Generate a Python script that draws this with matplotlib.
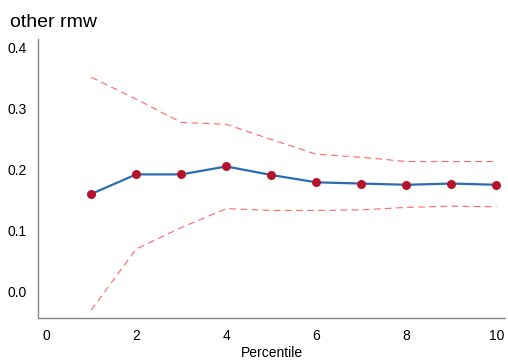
import matplotlib
matplotlib.use("Agg")
import matplotlib.pyplot as plt

# percentile buckets and estimated coefficient with its band
percentile = [1, 2, 3, 4, 5, 6, 7, 8, 9, 10]
coef = [0.160, 0.192, 0.192, 0.205, 0.191, 0.179, 0.177, 0.175, 0.177, 0.175]
upper = [0.351, 0.315, 0.277, 0.274, 0.249, 0.225, 0.220, 0.213, 0.213, 0.213]
lower = [-0.030, 0.070, 0.105, 0.136, 0.133, 0.133, 0.134, 0.138, 0.140, 0.139]

plt.rcParams["font.family"] = ["Liberation Sans", "DejaVu Sans"]

fig = plt.figure(figsize=(5.08, 3.64), dpi=100)
ax = fig.add_axes([0.075, 0.127, 0.92, 0.765])

ax.plot(percentile, upper, color="#ff5555", linestyle=(0, (6, 4)), linewidth=0.8, alpha=0.9)
ax.plot(percentile, lower, color="#ff5555", linestyle=(0, (6, 4)), linewidth=0.8, alpha=0.9)
ax.plot(percentile, coef, color="#2b6cb0", linewidth=1.6, zorder=2)
ax.scatter(percentile, coef, color="#b5152b", s=30, zorder=3)

ax.set_xlim(-0.18, 10.2)
ax.set_ylim(-0.0426, 0.413)
ax.set_xticks([0, 2, 4, 6, 8, 10])
ax.set_yticks([0.0, 0.1, 0.2, 0.3, 0.4])
ax.set_yticklabels(["0.0", "0.1", "0.2", "0.3", "0.4"])
ax.tick_params(length=0, labelsize=10, pad=8)
ax.set_xlabel("Percentile", fontsize=10, labelpad=2)

for side in ["top", "right"]:
    ax.spines[side].set_visible(False)
for side in ["left", "bottom"]:
    ax.spines[side].set_color("#888888")
    ax.spines[side].set_linewidth(1.0)

fig.text(0.02, 0.925, "other rmw", fontsize=14)

fig.savefig("out.png", dpi=100)
